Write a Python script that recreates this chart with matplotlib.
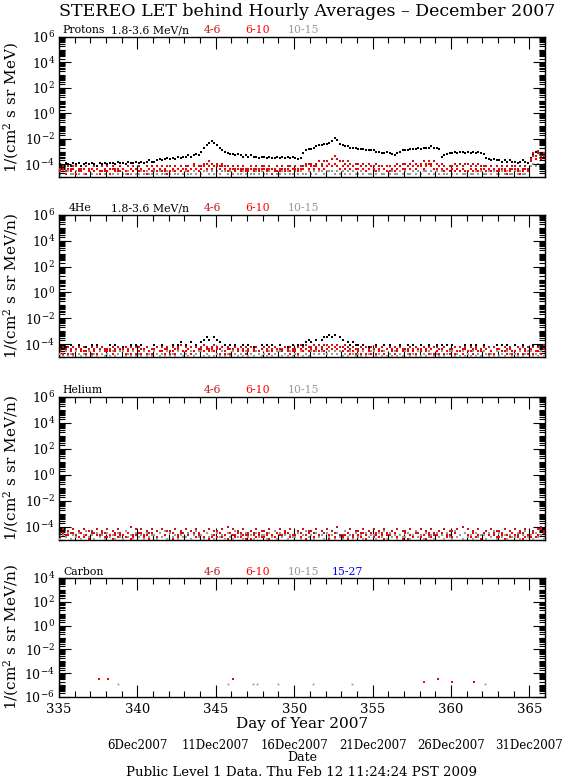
import numpy as np
import matplotlib
matplotlib.use("Agg")
import matplotlib.pyplot as plt
from matplotlib.ticker import FixedLocator, LogLocator, MultipleLocator, FuncFormatter, NullFormatter

# === Data (log10 flux) ===
# 4-hourly samples, one group of 6 per day, days 335..365
DAY0 = 335
PER_DAY = 6

protons_black = [
    -4.0, -4.1, -3.9, -4.0, -4.1, -3.9,
    -4.0, -3.9, -4.1, -4.0, -3.9, -4.0,
    -3.9, -4.0, -4.1, -3.9, -4.0, -3.9,
    -4.0, -3.9, -3.9, -4.0, -3.8, -3.9,
    -3.9, -4.0, -3.8, -3.9, -3.9, -3.8,
    -3.9, -3.8, -3.9, -3.8, -3.7, -3.8,
    -3.8, -3.7, -3.6, -3.7, -3.6, -3.5,
    -3.6, -3.5, -3.6, -3.4, -3.5, -3.4,
    -3.4, -3.3, -3.4, -3.3, -3.2, -3.3,
    -3.0, -2.7, -2.5, -2.3, -2.2, -2.3,
    -2.5, -2.7, -2.9, -3.0, -3.1, -3.2,
    -3.2, -3.3, -3.2, -3.3, -3.4, -3.3,
    -3.4, -3.3, -3.4, -3.4, -3.5, -3.4,
    -3.4, -3.5, -3.4, -3.5, -3.5, -3.4,
    -3.5, -3.4, -3.5, -3.4, -3.5, -3.4,
    -3.5, -3.6, -3.5, -3.1, -2.9, -2.8,
    -2.8, -2.7, -2.6, -2.5, -2.5, -2.4,
    -2.4, -2.3, -2.2, -1.9, -2.1, -2.4,
    -2.5, -2.6, -2.6, -2.7, -2.7, -2.7,
    -2.8, -2.8, -2.8, -2.9, -2.9, -2.9,
    -2.9, -3.0, -3.0, -3.1, -3.1, -3.0,
    -3.1, -3.2, -3.3, -3.1, -3.0, -2.9,
    -2.9, -2.9, -2.8, -2.8, -2.8, -2.7,
    -2.8, -2.7, -2.7, -2.7, -2.6, -2.7,
    -2.7, -2.8, -3.4, -3.3, -3.2, -3.1,
    -3.1, -3.0, -3.1, -3.0, -3.0, -3.1,
    -3.0, -3.1, -3.0, -3.1, -3.0, -3.1,
    -3.2, -3.5, -3.6, -3.7, -3.6, -3.7,
    -3.7, -3.8, -3.7, -3.8, -3.7, -3.8,
    -3.8, -3.9, -3.8, -3.7, -3.8, -3.9,
    -3.5, -3.2, -3.0, -3.1, -3.3, -3.5,
]

# count-limited channels sit on a few discrete levels; digits index the level list, "." = no data
P_LEVELS = [-4.8, -4.55, -4.4, -4.15, -3.95, -3.75, -3.55, -3.35, -3.15, -2.95]
protons_4_6 = ("231323 312232 232131 323213 213232 321323 232313 323232 "
               "332423 344543 434332 323232 232323 323213 232332 323344 "
               "434545 546765 545434 434343 343323 323434 434543 454545 "
               "434323 343434 434343 332323 232323 323232 687978")
protons_6_10 = ("120212 021201 212012 102121 210212 121021 212120 121212 "
                "212321 232323 323212 212121 121212 212021 121212 212232 "
                "323232 343432 323232 232123 212321 121232 232323 323432 "
                "232121 212121 121212 212121 121012 210121 576867")
protons_10_15 = ("010100 101001 010010 100101 001010 010100 101001 010010 "
                 "100101 011010 101101 010010 100101 001010 010100 101001 "
                 "010110 111010 101010 010100 101001 010010 100101 011010 "
                 "101001 010100 100101 001010 010100 101001 343434")

H4_LEVELS = [-4.9, -4.75, -4.55, -4.4, -4.2, -4.05, -3.85, -3.65, -3.45, -3.3]
he4_1_8 = ("5.4.5. .5..4. 5.5.4. .5.5.. 4..5.5 .5.4.. 5..5.4 .5.56. "
           "5.6.5. 6787.8 76.5.5 .5..5. 5.4..5 .5.5.. 5..4.5 .5.567 "
           "6.7.78 8989.8 7.6565 5.5.4. .5..5. 5.4.5. .5.5.. 5..5.4 "
           "5.5.5. 5..4.5 .5.5.. 5.4..5 .5.5.. 5..5.4 .5.5.5")
he4_4_6 = ("342434 243423 434243 324342 243434 432423 342434 243452 "
           "434243 454345 434243 342434 243423 434243 324342 345454 "
           "454545 545454 454343 342434 243423 434243 324342 243434 "
           "432423 342434 243423 434243 324342 243434 342425")
he4_6_10 = ("213121 312213 121312 231213 312131 213121 312213 121312 "
            "231213 323232 312131 213121 312213 121312 231213 213232 "
            "323232 323432 232121 213121 312213 121312 231213 312131 "
            "213121 312213 121312 231213 312131 213121 312213")
he4_10_15 = ("102010 210102 010210 102012 201020 102010 210102 010210 "
             "102012 201020 102010 210102 010210 102012 201020 102010 "
             "212121 121212 010210 102012 201020 102010 210102 010210 "
             "102012 201020 102010 210102 010210 102012 201020")

HE_LEVELS = [-4.9, -4.75, -4.6, -4.45, -4.3, -4.15, -4.0]
helium_4_6 = ("352435 243524 435243 524352 243625 352435 243524 435243 "
              "524352 243524 435263 524352 243524 435243 524352 243524 "
              "435243 524362 243524 435243 524352 243524 435243 524352 "
              "243524 435263 524352 243524 435243 524352 243564")
helium_6_10 = ("131203 213120 302131 120213 213012 131203 213120 302131 "
               "120213 213012 131203 213120 302131 120213 213012 131203 "
               "213120 302131 120213 213012 131203 213120 302131 120213 "
               "213012 131203 213120 302131 120213 213012 131253")
helium_10_15 = ("021302 130241 203120 312031 041203 120312 203140 312021 "
                "130241 203120 312031 041203 120312 203140 312021 130241 "
                "203120 312031 041203 120312 203140 312021 130241 203120 "
                "312031 041203 120312 203140 312021 130241 203120")

# Carbon: only a handful of hours with counts
carbon_4_6_day = [337.55, 346.1, 359.2]
carbon_4_6_val = [-4.5, -4.5, -4.5]
carbon_6_10_day = [338.15, 358.3, 360.05, 361.5]
carbon_6_10_val = [-4.5, -4.78, -4.78, -4.78]
carbon_10_15_day = [335.05, 338.75, 345.8, 347.35, 347.6, 348.95, 351.2, 353.7, 362.2]
carbon_10_15_val = [-4.9, -4.9, -4.9, -4.9, -4.9, -4.9, -4.9, -4.9, -4.9]

# === Style ===
plt.rcParams.update({
    "font.family": ["DejaVu Serif"],
    "mathtext.fontset": "dejavuserif",
    "font.size": 9,
    "axes.linewidth": 1.0,
})

BLACK = "black"
DARKRED = "#c01818"
RED = "#ff0000"
GRAY = "#999999"
BLUE = "#0000ff"


def decode(code, levels):
    out = []
    for ch in code.replace(" ", ""):
        out.append(np.nan if ch == "." else 10.0 ** levels[int(ch)])
    return np.array(out)


def sample_days(n):
    return DAY0 + (np.arange(n) + 0.5) / PER_DAY


def dots(ax, x, y, color, ms=1.7, z=2):
    ax.plot(x, y, ls="none", marker="s", ms=ms, mew=0, color=color, zorder=z)


W, H = 562, 778
fig = plt.figure(figsize=(W / 100, H / 100), dpi=100)

tops = [37, 215, 397, 578]
bots = [177, 357, 540, 697]
left, right = 59, 545
axes = []
for t, b in zip(tops, bots):
    axes.append(fig.add_axes([left / W, 1 - b / H, (right - left) / W, (b - t) / H]))

fmt = FuncFormatter(lambda v, p: "$10^{%d}$" % int(round(np.log10(v))))


def style(ax, ylo, yhi, majors, ylabel, labels):
    ax.set_xlim(335, 366)
    ax.set_yscale("log")
    ax.set_ylim(ylo, yhi)
    ax.yaxis.set_major_locator(FixedLocator(majors))
    ax.yaxis.set_minor_locator(LogLocator(base=10, subs=np.arange(1, 10), numticks=60))
    ax.yaxis.set_major_formatter(fmt)
    ax.yaxis.set_minor_formatter(NullFormatter())
    ax.xaxis.set_major_locator(MultipleLocator(5))
    ax.xaxis.set_minor_locator(MultipleLocator(1))
    ax.tick_params(which="both", direction="in", top=True, right=True, width=0.8)
    ax.tick_params(which="major", length=8.5, pad=3)
    ax.tick_params(which="minor", length=4.0)
    ax.tick_params(axis="x", labelbottom=False)
    ax.set_ylabel(ylabel, fontsize=11)
    ax.yaxis.set_label_coords(-0.078, 0.5)
    for txt, xf, col, ha in labels:
        ax.text(xf, 1.012, txt, color=col, ha=ha, va="bottom", fontsize=7.8,
                transform=ax.transAxes)


# ---------- Protons ----------
ax = axes[0]
t = sample_days(len(protons_black))
dots(ax, t, decode(protons_10_15, P_LEVELS), GRAY, z=1)
dots(ax, t, 10.0 ** np.array(protons_black), BLACK)
dots(ax, t, decode(protons_4_6, P_LEVELS), DARKRED, z=3)
dots(ax, t, decode(protons_6_10, P_LEVELS), RED, z=3)
style(ax, 1e-5, 1e6, 10.0 ** np.arange(-4, 7, 2), "1/(cm$^2$ s sr MeV)",
      [("Protons", 0.008, BLACK, "left"), ("1.8-3.6 MeV/n", 0.107, BLACK, "left"),
       ("4-6", 0.315, DARKRED, "center"), ("6-10", 0.409, RED, "center"),
       ("10-15", 0.502, GRAY, "center")])

# ---------- 4He ----------
ax = axes[1]
dots(ax, t, decode(he4_1_8, H4_LEVELS), BLACK)
dots(ax, t, decode(he4_4_6, H4_LEVELS), DARKRED)
dots(ax, t, decode(he4_6_10, H4_LEVELS), RED)
dots(ax, t, decode(he4_10_15, H4_LEVELS), GRAY, z=3)
style(ax, 1e-5, 1e6, 10.0 ** np.arange(-4, 7, 2), "1/(cm$^2$ s sr MeV/n)",
      [("4He", 0.019, BLACK, "left"), ("1.8-3.6 MeV/n", 0.107, BLACK, "left"),
       ("4-6", 0.315, DARKRED, "center"), ("6-10", 0.409, RED, "center"),
       ("10-15", 0.502, GRAY, "center")])

# ---------- Helium ----------
ax = axes[2]
dots(ax, t, decode(helium_4_6, HE_LEVELS), DARKRED)
dots(ax, t, decode(helium_6_10, HE_LEVELS), RED)
dots(ax, t, decode(helium_10_15, HE_LEVELS), GRAY, z=3)
style(ax, 1e-5, 1e6, 10.0 ** np.arange(-4, 7, 2), "1/(cm$^2$ s sr MeV/n)",
      [("Helium", 0.008, BLACK, "left"),
       ("4-6", 0.315, DARKRED, "center"), ("6-10", 0.409, RED, "center"),
       ("10-15", 0.502, GRAY, "center")])

# ---------- Carbon ----------
ax = axes[3]
dots(ax, carbon_10_15_day, 10.0 ** np.array(carbon_10_15_val), GRAY, ms=1.3)
dots(ax, carbon_4_6_day, 10.0 ** np.array(carbon_4_6_val), DARKRED)
dots(ax, carbon_6_10_day, 10.0 ** np.array(carbon_6_10_val), RED)
style(ax, 1e-6, 1e4, 10.0 ** np.arange(-6, 5, 2), "1/(cm$^2$ s sr MeV/n)",
      [("Carbon", 0.008, BLACK, "left"),
       ("4-6", 0.315, DARKRED, "center"), ("6-10", 0.409, RED, "center"),
       ("10-15", 0.502, GRAY, "center"), ("15-27", 0.593, BLUE, "center")])
ax.tick_params(axis="x", labelbottom=True, labelsize=9.5, pad=4)
ax.set_xlabel("Day of Year 2007", fontsize=11, labelpad=1)

# calendar dates under the day-of-year axis
date_days = [340, 345, 350, 355, 360, 365]
date_labels = ["6Dec2007", "11Dec2007", "16Dec2007", "21Dec2007", "26Dec2007", "31Dec2007"]
sec = ax.secondary_xaxis(-0.355)
sec.set_xticks(date_days)
sec.set_xticklabels(date_labels, fontsize=8.5)
sec.tick_params(length=0, pad=0)
sec.spines["bottom"].set_visible(False)
sec.set_xlabel("Date", fontsize=9, labelpad=-1)

# ---------- Title / footer ----------
fig.text(0.546, 1 - 11 / H, "STEREO LET behind Hourly Averages \u2013 December 2007",
         ha="center", va="center", fontsize=12.5)
fig.text(0.537, 1 - 772 / H, "Public Level 1 Data. Thu Feb 12 11:24:24 PST 2009",
         ha="center", va="center", fontsize=9.6)

fig.savefig("out.png", dpi=100)
plt.close(fig)
